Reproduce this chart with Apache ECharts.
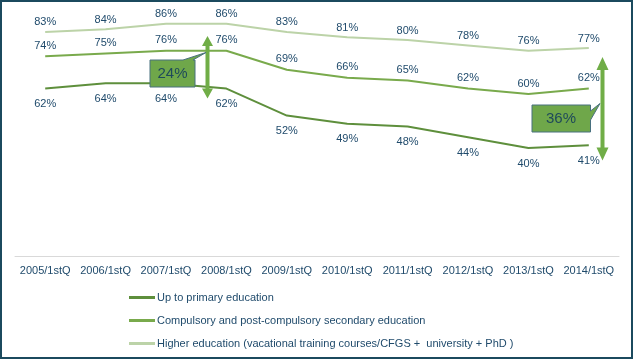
<!DOCTYPE html>
<html>
<head>
<meta charset="utf-8">
<script src="https://cdn.jsdelivr.net/npm/echarts@6/dist/echarts.min.js"></script>
<style>
html,body{margin:0;padding:0;background:#fff;}
#c{width:633px;height:360px;}
</style>
</head>
<body>
<div id="c"></div>
<script>
const categories = ['2005/1stQ','2006/1stQ','2007/1stQ','2008/1stQ','2009/1stQ','2010/1stQ','2011/1stQ','2012/1stQ','2013/1stQ','2014/1stQ'];
const seriesNames = [
  'Up to primary education',
  'Compulsory and post-compulsory secondary education',
  'Higher education (vacational training courses/CFGS +  university + PhD )'
];
const primary = [62, 64, 64, 62, 52, 49, 48, 44, 40, 41];
const secondary = [74, 75, 76, 76, 69, 66, 65, 62, 60, 62];
const higher = [83, 84, 86, 86, 83, 81, 80, 78, 76, 77];
const gapLabels = ['24%', '36%'];

const txt = '#1f4a6b';
const font = 'Liberation Sans';
const colors = ['#5e8f3c', '#79aa4c', '#bcd3a8'];

function dblArrow(x, y1, y2, shaft, head, headLen) {
  const s = shaft / 2, h = head / 2;
  return [
    [x, y1], [x + h, y1 + headLen], [x + s, y1 + headLen], [x + s, y2 - headLen],
    [x + h, y2 - headLen], [x, y2], [x - h, y2 - headLen], [x - s, y2 - headLen],
    [x - s, y1 + headLen], [x - h, y1 + headLen]
  ];
}

const chart = echarts.init(document.getElementById('c'), null, {renderer: 'canvas'});
function mkSeries(name, data, color, pos, dist) {
  return {
    name: name, type: 'line', data: data, showSymbol: true, symbol: 'circle', symbolSize: 0,
    lineStyle: {color: color, width: 2}, itemStyle: {color: color},
    label: {show: true, position: pos, distance: dist, formatter: '{c}%',
            color: txt, fontFamily: font, fontSize: 11},
    emphasis: {disabled: true}, animation: false
  };
}
chart.setOption({
  animation: false,
  grid: {left: 15, right: 14, top: 13, bottom: 104, containLabel: false},
  xAxis: {
    type: 'category', data: categories, boundaryGap: true,
    axisLine: {lineStyle: {color: '#d9d9d9', width: 1}},
    axisTick: {show: false},
    axisLabel: {color: txt, fontFamily: font, fontSize: 11, margin: 9, interval: 0}
  },
  yAxis: {type: 'value', min: 0, max: 90, show: false, splitLine: {show: false}},
  legend: {
    orient: 'vertical', left: 129, top: 292, itemGap: 12, padding: 0,
    itemWidth: 26, itemHeight: 3, icon: 'rect',
    data: seriesNames,
    textStyle: {color: txt, fontFamily: font, fontSize: 11, padding: [0,0,0,-3]},
    selectedMode: false
  },
  series: [
    mkSeries(seriesNames[0], primary, colors[0], 'bottom', 10),
    mkSeries(seriesNames[1], secondary, colors[1], 'top', 5),
    mkSeries(seriesNames[2], higher, colors[2], 'top', 4)
  ],
  graphic: [
    {type: 'rect', shape: {x: 1, y: 1, width: 631, height: 357},
     style: {fill: 'none', stroke: '#1b4a5e', lineWidth: 2}, z: 100},
    {type: 'polygon', shape: {points: dblArrow(207.5, 36, 98.5, 4, 11, 10)},
     style: {fill: '#70ad47'}, z: 50},
    {type: 'polygon', shape: {points: [[150,60],[183,60],[206,52.5],[193,60],[195,60],[195,87],[150,87]]},
     style: {fill: '#6fa74a', stroke: '#48707f', lineWidth: 1}, z: 51},
    {type: 'text', style: {x: 172.5, y: 73.5, text: gapLabels[0], fill: '#1f4a5a', font: '15px Liberation Sans', align: 'center', verticalAlign: 'middle'}, z: 52},
    {type: 'polygon', shape: {points: dblArrow(602.5, 57, 160.5, 4, 12, 13)},
     style: {fill: '#70ad47'}, z: 50},
    {type: 'polygon', shape: {points: [[532,105],[590.5,105],[590.5,111],[600,103.5],[590.5,120],[590.5,132],[532,132]]},
     style: {fill: '#6fa74a', stroke: '#48707f', lineWidth: 1}, z: 51},
    {type: 'text', style: {x: 561, y: 118.5, text: gapLabels[1], fill: '#1f4a5a', font: '15px Liberation Sans', align: 'center', verticalAlign: 'middle'}, z: 52}
  ]
});
</script>
</body>
</html>
